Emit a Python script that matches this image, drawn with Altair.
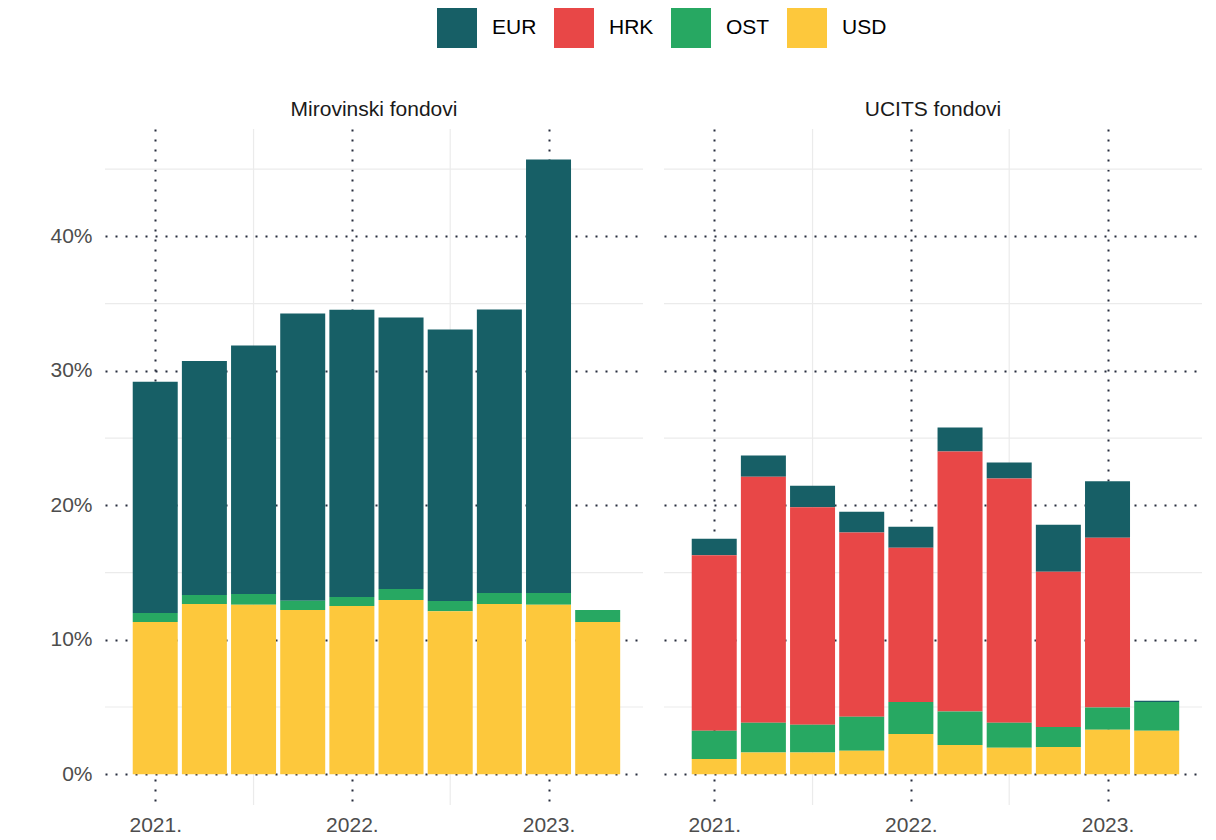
import altair as alt
import pandas as pd

FONT = "Liberation Sans"

quarters = [2021.0, 2021.25, 2021.5, 2021.75, 2022.0, 2022.25, 2022.5, 2022.75, 2023.0, 2023.25]
year_ticks = [2021, 2022, 2023]
y_ticks = [0, 10, 20, 30, 40]
minor_x = [2021.5, 2022.5]
minor_y = [5, 15, 25, 35, 45]

currencies = ["EUR", "HRK", "OST", "USD"]
colors = ["#175f66", "#e84747", "#27a862", "#fdc83c"]
stack_rank = {"USD": 0, "OST": 1, "HRK": 2, "EUR": 3}

panels = ["Mirovinski fondovi", "UCITS fondovi"]

# Mirovinski fondovi (%)
mir_usd = [11.32, 12.66, 12.61, 12.21, 12.51, 12.95, 12.13, 12.66, 12.61, 11.32]
mir_ost = [0.67, 0.67, 0.79, 0.69, 0.67, 0.82, 0.75, 0.81, 0.86, 0.89]
mir_hrk = [0, 0, 0, 0, 0, 0, 0, 0, 0, 0]
mir_eur = [17.20, 17.40, 18.49, 21.37, 21.37, 20.20, 20.20, 21.10, 32.25, 0]

# UCITS fondovi (%)
ucits_usd = [1.14, 1.61, 1.61, 1.74, 3.00, 2.18, 1.96, 2.03, 3.30, 3.23]
ucits_ost = [2.09, 2.21, 2.06, 2.53, 2.38, 2.49, 1.86, 1.49, 1.66, 2.15]
ucits_hrk = [13.05, 18.31, 16.18, 13.70, 11.47, 19.33, 18.17, 11.54, 12.63, 0]
ucits_eur = [1.24, 1.57, 1.61, 1.56, 1.56, 1.78, 1.19, 3.50, 4.20, 0.08]

series = {
    panels[0]: {"EUR": mir_eur, "HRK": mir_hrk, "OST": mir_ost, "USD": mir_usd},
    panels[1]: {"EUR": ucits_eur, "HRK": ucits_hrk, "OST": ucits_ost, "USD": ucits_usd},
}

rows = []
for p in panels:
    for cur in currencies:
        for t, v in zip(quarters, series[p][cur]):
            if v > 0:
                rows.append({"panel": p, "t": t, "currency": cur, "value": v, "ord": stack_rank[cur]})
df = pd.DataFrame(rows)

df_minor_x = pd.DataFrame({"t": minor_x})
df_minor_y = pd.DataFrame({"value": minor_y})

DOT = "#262c3d"
LABEL = "#4d4d4d"

x_scale = alt.Scale(domain=[2020.77, 2023.455], nice=False, zero=False)
y_scale = alt.Scale(domain=[-2.29, 47.99], nice=False, zero=False)


def x_axis():
    return alt.Axis(values=year_ticks, labelExpr="datum.value + '.'", title=None,
                    grid=True, gridDash=[2, 8], gridColor=DOT, gridWidth=2,
                    domain=False, ticks=False, tickSize=0, labelPadding=9,
                    labelFontSize=21, labelColor=LABEL, labelFont=FONT)


def y_axis(show):
    return alt.Axis(values=y_ticks, labelExpr="datum.value + '%'", title=None,
                    grid=True, gridDash=[2, 8], gridColor=DOT, gridWidth=2,
                    domain=False, ticks=False, tickSize=0, labelPadding=13,
                    labels=show, labelFontSize=21, labelColor=LABEL, labelFont=FONT)


def panel(name, show_y):
    sub = df[df["panel"] == name]
    xr = alt.Chart(df_minor_x).mark_rule(color="#ebebeb", strokeWidth=1.2).encode(
        x=alt.X("t:Q", scale=x_scale, axis=x_axis())
    )
    yr = alt.Chart(df_minor_y).mark_rule(color="#ebebeb", strokeWidth=1.2).encode(
        y=alt.Y("value:Q", scale=y_scale, axis=y_axis(show_y))
    )
    bars = alt.Chart(sub).mark_bar(size=45).encode(
        x=alt.X("t:Q", scale=x_scale, axis=x_axis()),
        y=alt.Y("value:Q", stack="zero", scale=y_scale, axis=y_axis(show_y)),
        color=alt.Color("currency:N",
                        scale=alt.Scale(domain=currencies, range=colors),
                        legend=alt.Legend(title=None, orient="none", legendX=332, legendY=-121,
                                          direction="horizontal", symbolType="square",
                                          symbolSize=1600, symbolStrokeWidth=0, symbolOpacity=1,
                                          labelFontSize=21, labelFont=FONT, labelColor="black",
                                          labelOffset=15, columnPadding=17)),
        order=alt.Order("ord:Q", sort="ascending"),
    )
    return alt.layer(xr, yr, bars).properties(
        width=538, height=676,
        title=alt.Title(name, fontSize=21, font=FONT, color="#1a1a1a", fontWeight="normal",
                        anchor="middle", offset=8),
    )


chart = alt.hconcat(panel(panels[0], True), panel(panels[1], False), spacing=19).properties(
    padding={"left": 41, "top": 0, "right": 5, "bottom": 5}
).configure_view(strokeWidth=0)

chart.save("out.html", embed_options={"renderer": "svg", "actions": False})
